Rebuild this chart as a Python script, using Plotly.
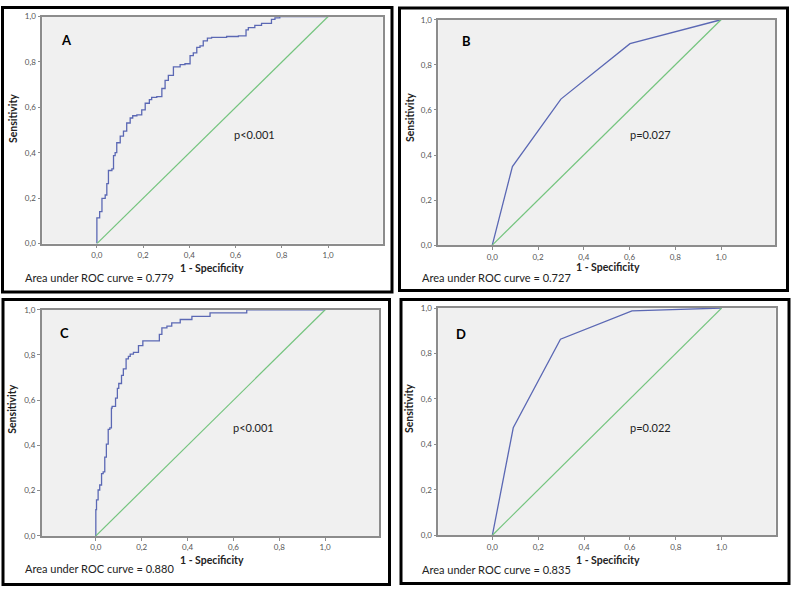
import plotly.graph_objects as go

W, H = 791, 593

# ---------------- data ----------------
a_fpr = [0.0, 0.0, 0.012, 0.022, 0.036, 0.043, 0.050, 0.065, 0.072, 0.079, 0.086, 0.101, 0.115,
         0.129, 0.144, 0.155, 0.173, 0.194, 0.209, 0.227, 0.237, 0.259, 0.281, 0.295, 0.309, 0.331,
         0.360, 0.381, 0.403, 0.417, 0.432, 0.446, 0.460, 0.478, 0.496, 0.561, 0.612, 0.645, 0.655,
         0.683, 0.712, 0.755, 0.770, 0.791, 0.820, 1.0]
a_tpr = [0.0, 0.047, 0.113, 0.141, 0.199, 0.214, 0.264, 0.322, 0.329, 0.387, 0.401, 0.444, 0.473,
         0.495, 0.531, 0.553, 0.563, 0.567, 0.589, 0.618, 0.634, 0.644, 0.647, 0.683, 0.719, 0.741,
         0.778, 0.788, 0.792, 0.828, 0.840, 0.864, 0.871, 0.893, 0.905, 0.908, 0.912, 0.915, 0.941,
         0.951, 0.961, 0.970, 0.987, 0.994, 1.0, 1.0]

b_fpr = [0.0, 0.088, 0.300, 0.602, 1.0]
b_tpr = [0.0, 0.349, 0.648, 0.894, 1.0]

c_fpr = [0.0, 0.0, 0.003, 0.010, 0.017, 0.025, 0.032, 0.039, 0.046, 0.054, 0.061, 0.068, 0.071,
         0.086, 0.094, 0.100, 0.112, 0.120, 0.132, 0.142, 0.150, 0.164, 0.186, 0.205, 0.229, 0.277,
         0.288, 0.310, 0.331, 0.368, 0.419, 0.498, 0.658, 0.702, 1.0]
c_tpr = [0.0, 0.072, 0.116, 0.159, 0.203, 0.225, 0.275, 0.283, 0.348, 0.406, 0.471, 0.478, 0.565,
         0.573, 0.609, 0.652, 0.674, 0.710, 0.739, 0.783, 0.794, 0.804, 0.812, 0.841, 0.862, 0.862,
         0.891, 0.920, 0.928, 0.942, 0.957, 0.971, 0.986, 1.0, 1.0]

d_fpr = [0.0, 0.091, 0.297, 0.609, 1.0]
d_tpr = [0.0, 0.473, 0.863, 0.988, 1.0]

ref_line = [0.0, 1.0]

panel_letters = ["A", "B", "C", "D"]
p_texts = ["p<0.001", "p=0.027", "p<0.001", "p=0.022"]
auc_texts = ["Area under ROC curve = 0.779", "Area under ROC curve = 0.727",
             "Area under ROC curve = 0.880", "Area under ROC curve = 0.835"]
tick_vals = [0.0, 0.2, 0.4, 0.6, 0.8, 1.0]
tick_text = ["0,0", "0,2", "0,4", "0,6", "0,8", "1,0"]
x_title = "1 - Specificity"
y_title = "Sensitivity"

curves = [(a_fpr, a_tpr, "vh"), (b_fpr, b_tpr, "linear"), (c_fpr, c_tpr, "vh"), (d_fpr, d_tpr, "linear")]

# ---------------- layout geometry (pixels) ----------------
plots = [  # left, right, top, bottom
    (42.3, 382.7, 11.7, 242.7),
    (438.3, 775.0, 15.0, 244.3),
    (41.7, 379.3, 310.0, 540.0),
    (438.3, 775.7, 308.3, 539.3),
]
boxes = [
    (2.5, 392, 2.5, 292),
    (399.5, 787.5, 3, 290.5),
    (3, 389.5, 299.5, 589.5),
    (401, 789, 299.5, 588.5),
]
letter_pos = [(66, 36), (466.7, 36.7), (64, 333.3), (461, 334.3)]
p_pos = [(254.5, 132), (650.8, 131.7), (253, 430), (650.8, 430)]
xt_pos = [(211.5, 268), (608.3, 267), (211.7, 564.3), (607.7, 565)]
auc_pos = [(23, 277.5), (420, 277), (22.7, 573.5), (420, 574.5)]
yt_pos = [(13, 115), (410, 115), (12, 411.7), (409, 410)]

def px(x):
    return x / W

def py(y):
    return 1 - y / H

XR = [-0.236, 1.236]
FONT = "Lato"

fig = go.Figure()
annotations = []
shapes = []
for i in range(4):
    xa = "x" if i == 0 else f"x{i+1}"
    ya = "y" if i == 0 else f"y{i+1}"
    fx, fy, shp = curves[i]
    fig.add_trace(go.Scatter(x=fx, y=fy, mode="lines", line=dict(color="#5B68B4", width=1.3, shape=shp),
                             xaxis=xa, yaxis=ya, showlegend=False, hoverinfo="skip"))
    fig.add_trace(go.Scatter(x=ref_line, y=ref_line, mode="lines", line=dict(color="#74C47E", width=1.2),
                             xaxis=xa, yaxis=ya, showlegend=False, hoverinfo="skip"))
    l, r, t, b = plots[i]
    axkey = "xaxis" if i == 0 else f"xaxis{i+1}"
    aykey = "yaxis" if i == 0 else f"yaxis{i+1}"
    fig.update_layout(**{
        axkey: dict(domain=[px(l), px(r)], range=XR, anchor=ya, tickvals=tick_vals, ticktext=tick_text,
                    showgrid=False, zeroline=False, showline=True, mirror=True, linecolor="#8C8C8C",
                    linewidth=1.5, ticks="outside", ticklen=3, tickcolor="#8C8C8C",
                    tickfont=dict(family=FONT, size=8, color="#555555")),
        aykey: dict(domain=[py(b), py(t)], range=[0, 1], anchor=xa, tickvals=tick_vals, ticktext=tick_text,
                    showgrid=False, zeroline=False, showline=True, mirror=True, linecolor="#8C8C8C",
                    linewidth=1.5, ticks="outside", ticklen=3, tickcolor="#8C8C8C",
                    tickfont=dict(family=FONT, size=8, color="#555555")),
    })
    bl, br, bt, bb = boxes[i]
    shapes.append(dict(type="rect", xref="paper", yref="paper", x0=px(bl), x1=px(br), y0=py(bb), y1=py(bt),
                       line=dict(color="black", width=3), fillcolor="rgba(0,0,0,0)", layer="above"))
    annotations.append(dict(x=px(letter_pos[i][0]), y=py(letter_pos[i][1]), xref="paper", yref="paper",
                            text=f"<b>{panel_letters[i]}</b>", showarrow=False,
                            font=dict(family=FONT, size=13, color="black"), xanchor="center", yanchor="middle"))
    annotations.append(dict(x=px(p_pos[i][0]), y=py(p_pos[i][1]), xref="paper", yref="paper",
                            text=p_texts[i], showarrow=False,
                            font=dict(family=FONT, size=11, color="#222222"), xanchor="center", yanchor="middle"))
    annotations.append(dict(x=px(xt_pos[i][0]), y=py(xt_pos[i][1]), xref="paper", yref="paper",
                            text=f"<b>{x_title}</b>", showarrow=False,
                            font=dict(family=FONT, size=10.5, color="#222222"), xanchor="center", yanchor="middle"))
    annotations.append(dict(x=px(auc_pos[i][0]), y=py(auc_pos[i][1]), xref="paper", yref="paper",
                            text=auc_texts[i], showarrow=False,
                            font=dict(family=FONT, size=11, color="#222222"), xanchor="left", yanchor="middle"))
    annotations.append(dict(x=px(yt_pos[i][0]), y=py(yt_pos[i][1]), xref="paper", yref="paper",
                            text=f"<b>{y_title}</b>", showarrow=False, textangle=-90,
                            font=dict(family=FONT, size=10.5, color="#222222"), xanchor="center", yanchor="middle"))

fig.update_layout(width=W, height=H, margin=dict(l=0, r=0, t=0, b=0), paper_bgcolor="white",
                  plot_bgcolor="#F0F0F0", shapes=shapes, annotations=annotations)

fig.write_html("out.html", config={"displayModeBar": False},
               post_script="document.body.style.margin='0';document.body.style.padding='0';")
